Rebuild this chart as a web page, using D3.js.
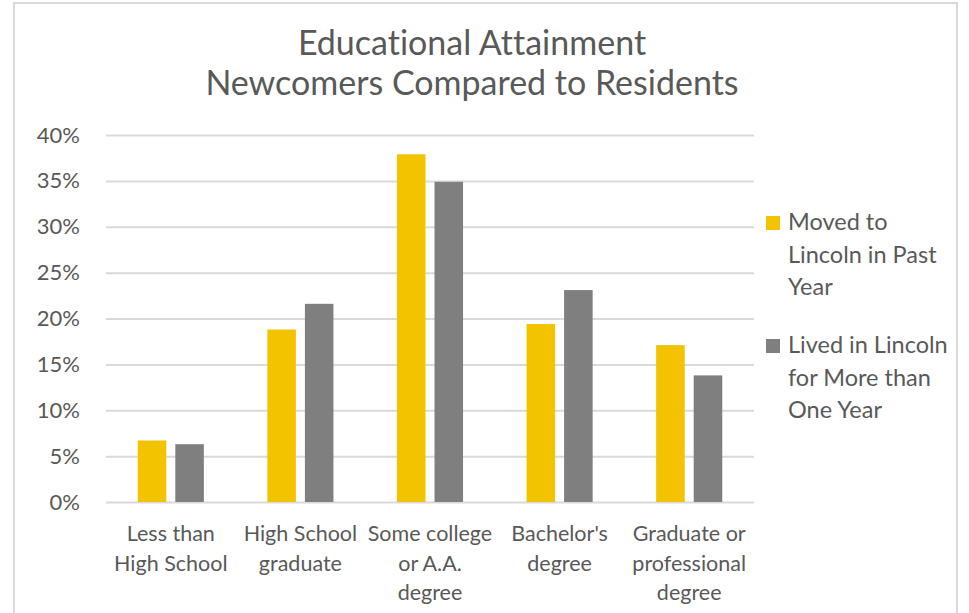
<!DOCTYPE html>
<html>
<head>
<meta charset="utf-8">
<script src="https://cdn.jsdelivr.net/npm/d3@7"></script>
<style>
  html, body { margin: 0; padding: 0; background: #fff; }
  svg { display: block; }
  text { font-family: Lato, "Open Sans", sans-serif; fill: #595959; font-variant-ligatures: none; font-feature-settings: "liga" 0; }
</style>
</head>
<body>
<svg id="chart" width="969" height="613"></svg>
<script>
const categories = [
  ["Less than", "High School"],
  ["High School", "graduate"],
  ["Some college", "or A.A.", "degree"],
  ["Bachelor's", "degree"],
  ["Graduate or", "professional", "degree"]
];
const seriesNames = [
  ["Moved to", "Lincoln in Past", "Year"],
  ["Lived in Lincoln", "for More than", "One Year"]
];
const movedValues = [6.7, 18.8, 37.9, 19.4, 17.1];
const livedValues = [6.3, 21.6, 34.9, 23.1, 13.8];
const yTicks = [0, 5, 10, 15, 20, 25, 30, 35, 40];
const titleLines = ["Educational Attainment", "Newcomers Compared to Residents"];
const colors = ["#F3C300", "#7F7F7F"];

const svg = d3.select("#chart");

// chart border
svg.append("rect")
  .attr("x", 14).attr("y", 3).attr("width", 943).attr("height", 640)
  .attr("fill", "none").attr("stroke", "#D9D9D9").attr("stroke-width", 2);

const plot = { left: 106, right: 754, top: 135, bottom: 502 };

const x0 = d3.scaleBand()
  .domain(d3.range(categories.length))
  .range([plot.left, plot.right])
  .paddingInner(0.49).paddingOuter(0.245);
const x1 = d3.scaleBand()
  .domain([0, 1])
  .range([0, x0.bandwidth()])
  .paddingInner(0.24).paddingOuter(0);
const y = d3.scaleLinear().domain([0, 40]).range([plot.bottom, plot.top]);

// gridlines + y labels
const yAxis = d3.axisLeft(y)
  .tickValues(yTicks)
  .tickSize(-(plot.right - plot.left))
  .tickPadding(26)
  .tickFormat(d => d + "%");
const gy = svg.append("g")
  .attr("transform", `translate(${plot.left},0)`)
  .call(yAxis);
gy.select(".domain").remove();
gy.selectAll(".tick line").attr("stroke", "#D9D9D9").attr("stroke-width", 2);
gy.selectAll(".tick text")
  .attr("font-size", 22)
  .attr("fill", "#595959")
  .style("font-family", "Lato, 'Open Sans', sans-serif");

// bars
const data = categories.map((c, i) => ({ i, vals: [movedValues[i], livedValues[i]] }));
const groups = svg.append("g").selectAll("g")
  .data(data).join("g")
  .attr("transform", d => `translate(${x0(d.i)},0)`);
groups.selectAll("rect")
  .data(d => d.vals.map((v, s) => ({ v, s })))
  .join("rect")
  .attr("x", d => x1(d.s))
  .attr("width", x1.bandwidth())
  .attr("y", d => y(d.v))
  .attr("height", d => y(0) - y(d.v))
  .attr("fill", d => colors[d.s]);

// x labels
const xl = svg.append("g");
categories.forEach((lines, i) => {
  const cx = x0(i) + x0.bandwidth() / 2;
  const t = xl.append("text")
    .attr("text-anchor", "middle")
    .attr("font-size", 21.5)
    .attr("x", cx)
    .attr("y", 541);
  lines.forEach((ln, k) => {
    t.append("tspan")
      .attr("x", cx)
      .attr("y", 541 + k * 29.5)
      .text(ln);
  });
});

// title
titleLines.forEach((ln, k) => {
  svg.append("text")
    .attr("text-anchor", "middle")
    .attr("x", 472)
    .attr("y", 55 + k * 39.5)
    .attr("font-size", 34)
    .text(ln);
});

// legend
const legendY = [230, 353];
seriesNames.forEach((lines, s) => {
  svg.append("rect")
    .attr("x", 766).attr("y", legendY[s] - 14)
    .attr("width", 14).attr("height", 14)
    .attr("fill", colors[s]);
  lines.forEach((ln, k) => {
    svg.append("text")
      .attr("x", 788)
      .attr("y", legendY[s] + k * 32.5)
      .attr("font-size", 23.5)
      .text(ln);
  });
});
</script>
</body>
</html>
